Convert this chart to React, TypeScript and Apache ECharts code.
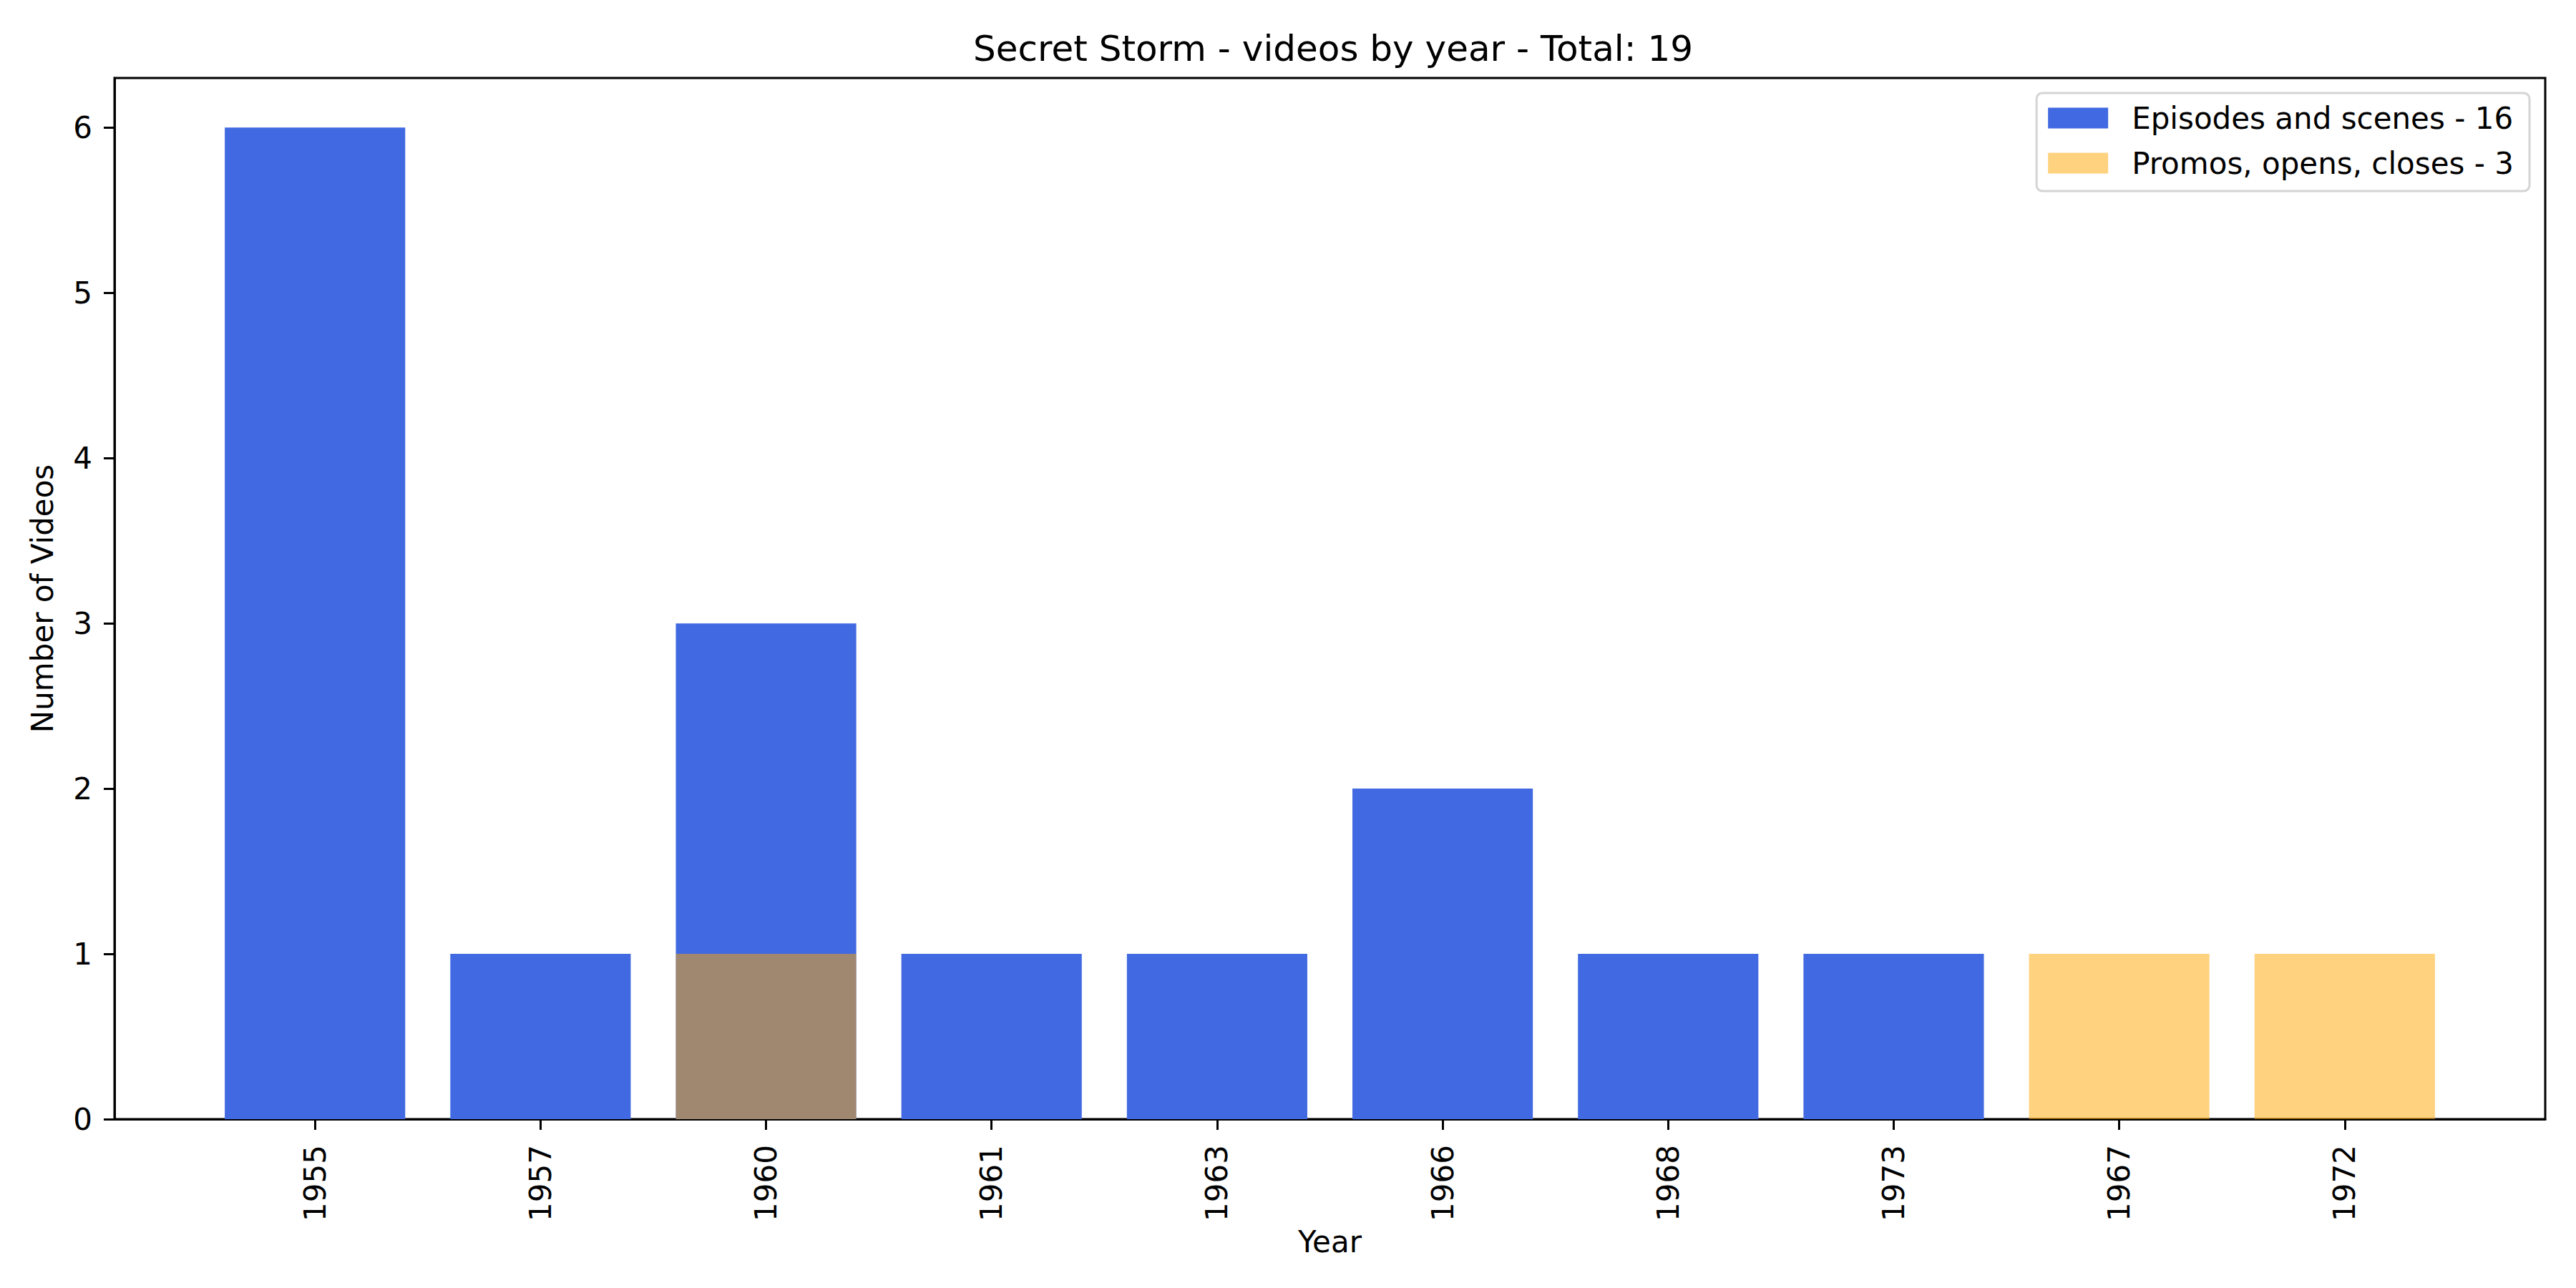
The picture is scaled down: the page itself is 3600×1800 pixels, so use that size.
import React, { useEffect, useRef } from "react";
import * as echarts from "echarts";

// categories in plot order
const years = ["1955", "1957", "1960", "1961", "1963", "1966", "1968", "1973", "1967", "1972"];

// episodes and scenes, per category index
const episodeIdx = [0, 1, 2, 3, 4, 5, 6, 7];
const episodeValues = [6, 1, 3, 1, 1, 2, 1, 1];

// promos, opens, closes, per category index
const promoIdx = [2, 8, 9];
const promoValues = [1, 1, 1];

const yTicks = [0, 1, 2, 3, 4, 5, 6];

const FONT = "DejaVu Sans";
const BLUE = "#4169e1";
const ORANGE = "rgba(255,165,0,0.5)";

const App = () => {
  const el = useRef<HTMLDivElement>(null);

  useEffect(() => {
    if (!el.current) return;
    const chart = echarts.init(el.current, null, { renderer: "svg" });
    const xTicks = years.map((_, i) => i);
    const episodeTotal = episodeValues.reduce((a, b) => a + b, 0);
    const promoTotal = promoValues.reduce((a, b) => a + b, 0);

    chart.setOption({
      animation: false,
      backgroundColor: "#ffffff",
      textStyle: { fontFamily: FONT, color: "#000" },
      title: {
        text: "Secret Storm - videos by year - Total: " + (episodeTotal + promoTotal),
        left: 1858,
        textAlign: "center",
        top: 38,
        textStyle: { fontFamily: FONT, fontSize: 50, fontWeight: "normal", color: "#000" },
      },
      legend: {
        orient: "vertical",
        right: 65,
        top: 130,
        padding: [14, 22, 18, 16],
        itemGap: 21,
        itemWidth: 84,
        itemHeight: 29,
        icon: "rect",
        backgroundColor: "#ffffff",
        borderColor: "#d4d4d4",
        borderWidth: 3,
        borderRadius: 8,
        textStyle: { fontFamily: FONT, fontSize: 42, color: "#000", padding: [0, 0, 0, 28] },
        data: ["Episodes and scenes - " + episodeTotal, "Promos, opens, closes - " + promoTotal],
      },
      grid: {
        left: 160,
        right: 43,
        top: 109,
        bottom: 236,
        show: true,
        borderColor: "#000",
        borderWidth: 3,
        containLabel: false,
      },
      xAxis: {
        type: "value",
        min: -0.889,
        max: 9.889,
        name: "Year",
        nameLocation: "middle",
        nameGap: 141,
        nameTextStyle: { fontFamily: FONT, fontSize: 42, color: "#000" },
        axisLine: { show: true, onZero: false, lineStyle: { color: "#000", width: 3 } },
        axisTick: { show: true, length: 15, lineStyle: { color: "#000", width: 3 }, customValues: xTicks },
        axisLabel: {
          rotate: 90,
          margin: 36,
          fontFamily: FONT,
          fontSize: 42,
          color: "#000",
          customValues: xTicks,
          formatter: (v: number) => years[Math.round(v)] ?? "",
        },
        splitLine: { show: false },
      },
      yAxis: {
        type: "value",
        min: 0,
        max: 6.3,
        name: "Number of Videos",
        nameLocation: "middle",
        nameGap: 80,
        nameTextStyle: { fontFamily: FONT, fontSize: 42, color: "#000" },
        axisLine: { show: true, onZero: false, lineStyle: { color: "#000", width: 3 } },
        axisTick: { show: true, length: 15, lineStyle: { color: "#000", width: 3 }, customValues: yTicks },
        axisLabel: { margin: 31, fontFamily: FONT, fontSize: 42, color: "#000", customValues: yTicks },
        splitLine: { show: false },
      },
      series: [
        {
          name: "Episodes and scenes - " + episodeTotal,
          type: "bar",
          barWidth: "80%",
          barGap: "-100%",
          itemStyle: { color: BLUE },
          data: episodeIdx.map((x, i) => [x, episodeValues[i]]),
        },
        {
          name: "Promos, opens, closes - " + promoTotal,
          type: "bar",
          barWidth: "80%",
          barGap: "-100%",
          itemStyle: { color: ORANGE },
          data: promoIdx.map((x, i) => [x, promoValues[i]]),
        },
      ],
    });

    return () => chart.dispose();
  }, []);

  return (
    <div
      ref={el}
      style={{ position: "absolute", left: 0, top: 0, width: 3600, height: 1800, background: "#fff" }}
    ></div>
  );
};

export default App;
